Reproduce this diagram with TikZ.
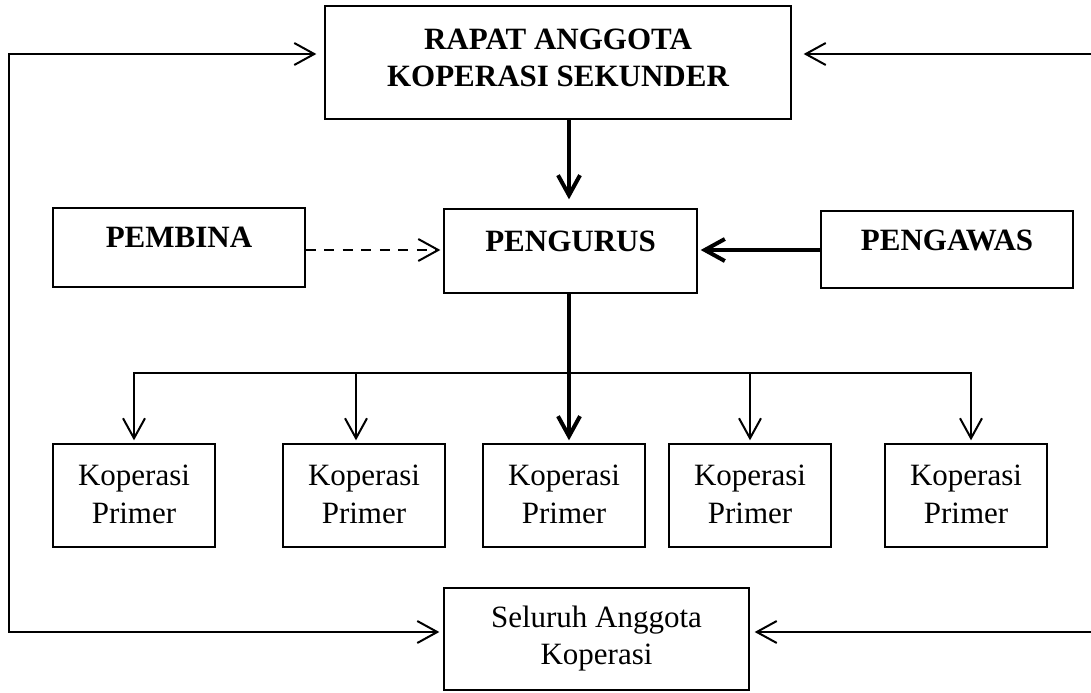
\documentclass[tikz,border=0pt]{standalone}
\usepackage{fontspec}
\setmainfont{Liberation Serif}
\usetikzlibrary{arrows.meta}

\tikzset{every picture/.style={line width=0.75pt}}
\tikzset{
  box/.style={draw, line width=1pt, rectangle, inner sep=0pt},
  txt/.style={font=\fontsize{23.25}{27.75}\selectfont, align=center, inner sep=0pt, anchor=north},
  btxt/.style={txt, font=\fontsize{23.25}{27.75}\selectfont\bfseries},
  ptxt/.style={txt, font=\fontsize{23.25}{28.5}\selectfont},
  link/.style={line width=1.5pt},
  mainlink/.style={line width=3pt},
  primer/.style={box, minimum width=121.5pt, minimum height=77.25pt},
}

\begin{document}
\begin{tikzpicture}[x=0.75pt,y=0.75pt,yscale=-1,>={Straight Barb[length=15pt,width=16.5pt]}]
\useasboundingbox (0,0) rectangle (1091,692);

%Rectangle
\node [box, minimum width=349.5pt, minimum height=84.75pt] (rapat) at (558,62.5) {};
\node [box, minimum width=189pt, minimum height=59.25pt] (pembina) at (179,247.5) {};
\node [box, minimum width=189.75pt, minimum height=63pt] (pengurus) at (570.5,251) {};
\node [box, minimum width=189pt, minimum height=57.75pt] (pengawas) at (947,249.5) {};
\node [primer] (k1) at (134,495.5) {};
\node [primer] (k2) at (364,495.5) {};
\node [primer] (k3) at (564,495.5) {};
\node [primer] (k4) at (750,495.5) {};
\node [primer] (k5) at (966,495.5) {};
\node [box, minimum width=228.75pt, minimum height=76.5pt] (seluruh) at (596.5,639) {};

% Text Node
\node [btxt] (rapatT) at ([yshift=17.25pt]rapat.north) {RAPAT ANGGOTA\\KOPERASI SEKUNDER};
% Text Node
\node [btxt] (pembinaT) at ([yshift=14.25pt]pembina.north) {PEMBINA};
% Text Node
\node [btxt] (pengurusT) at ([yshift=16.5pt]pengurus.north) {PENGURUS};
% Text Node
\node [btxt] (pengawasT) at ([yshift=14.25pt]pengawas.north) {PENGAWAS};
% Text Node
\foreach \k in {k1,k2,k3,k4,k5}
  \node [ptxt] (\k T) at ([yshift=15.75pt]\k.north) {Koperasi\\Primer};
% Text Node
\node [txt] (seluruhT) at ([yshift=13.5pt]seluruh.north) {Seluruh Anggota\\Koperasi};

\coordinate (hub) at (569,250);
\coordinate (bus) at (569,373);
\coordinate (lt) at (9,54);
\coordinate (lb) at (9,632);
\coordinate (rt) at (1091,54);
\coordinate (rb) at (1091,632);

%Straight Lines
\draw [mainlink, ->, shorten >=6.75pt] (bus |- rapat.south) -- (bus |- pengurus.north);
%Straight Lines
\draw [link, ->, dash pattern=on 7.5pt off 6.4pt, shorten >=2.25pt] (pembina.east |- hub) -- (pengurus.west |- hub);
%Straight Lines
\draw [mainlink, ->, shorten >=2.25pt] (pengawas.west |- hub) -- (pengurus.east |- hub);
%Straight Lines
\draw [mainlink, ->, shorten >=2.25pt] (bus |- pengurus.south) -- (bus |- k3.north);
%Straight Lines
\draw [link, <->, shorten <=2.25pt, shorten >=2.25pt] (k1.north) -- (k1.north |- bus) -- ([xshift=3.75pt]k5.north |- bus) -- ([xshift=3.75pt]k5.north);
\draw [link, ->, shorten >=2.25pt] ([xshift=-6pt]k2.north |- bus) -- ([xshift=-6pt]k2.north);
\draw [link, ->, shorten >=2.25pt] (k4.north |- bus) -- (k4.north);
%Straight Lines
\draw [link, <->, shorten <=6pt, shorten >=3pt] (lt -| rapat.west) -- (lt) -- (lb) -- (lb -| seluruh.west);
%Straight Lines
\draw [link, ->, shorten >=9pt] (rt) -- (rt -| rapat.east);
\draw [link, ->, shorten >=3.75pt] (rb) -- (rb -| seluruh.east);

\end{tikzpicture}
\end{document}
